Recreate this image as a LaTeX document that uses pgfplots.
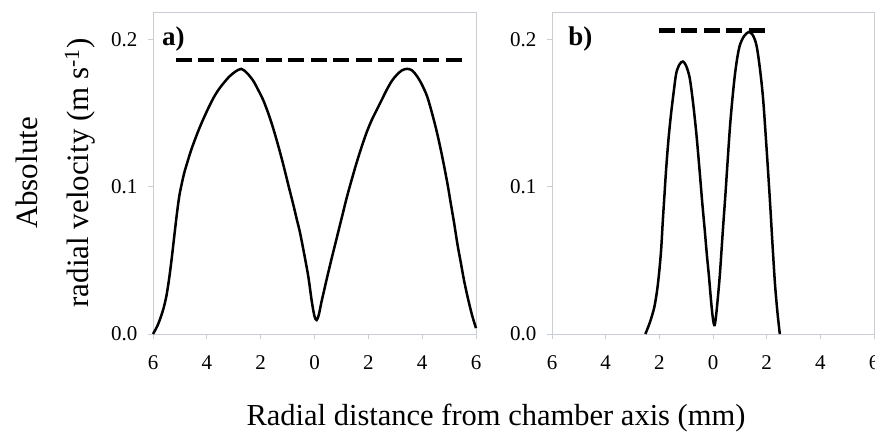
\documentclass[border=0pt]{standalone}
\usepackage{fontspec}
\setmainfont{Liberation Serif}
\usepackage{pgfplots}
\pgfplotsset{compat=1.18}
\definecolor{framecol}{RGB}{200,205,214}
\pgfplotsset{
  panel/.style={
    anchor=south west, scale only axis,
    width=323pt, height=322pt,
    xmin=-6, xmax=6, ymin=0, ymax=0.2186,
    axis line style={framecol, line width=0.8pt},
    tick style={framecol, line width=0.8pt},
    major tick length=5pt,
    tick align=outside,
    xtick pos=bottom, ytick pos=left,
    xtick={-6,-4,-2,0,2,4,6},
    xticklabels={6,4,2,0,2,4,6},
    ytick={0,0.1,0.2},
    yticklabels={0.0,0.1,0.2},
    tick label style={font=\fontsize{21}{24}\selectfont, black},
    xticklabel style={yshift=-13pt},
    yticklabel style={xshift=-7pt},
    clip=false,
  },
  curve/.style={black, line width=2.5pt, smooth, tension=0.5, no marks},
  dashline/.style={black, line width=4.5pt, dash pattern=on 16pt off 6.5pt, no marks},
}
\begin{document}
\begin{tikzpicture}[x=1pt,y=1pt]
\useasboundingbox (0,0) rectangle (875,431);
\begin{axis}[panel, at={(153pt,97pt)},
  ylabel={Absolute\\radial velocity (m s\textsuperscript{-1})},
  ylabel style={at={(axis description cs:-0.303,0.5)}, anchor=center, align=center, font=\fontsize{31}{51}\selectfont},
]
\addplot[curve] coordinates {
(-6.0,0.000) (-5.85,0.005) (-5.72,0.011) (-5.60,0.018) (-5.49,0.027) (-5.39,0.039)
(-5.30,0.052) (-5.20,0.068) (-5.11,0.082) (-5.02,0.094) (-4.92,0.103) (-4.83,0.110)
(-4.70,0.118) (-4.58,0.125) (-4.42,0.133) (-4.27,0.140) (-4.08,0.148) (-3.90,0.155)
(-3.70,0.162) (-3.52,0.167) (-3.30,0.172) (-3.15,0.175) (-2.95,0.178) (-2.72,0.180)
(-2.50,0.177) (-2.28,0.172) (-2.10,0.166) (-1.91,0.159) (-1.72,0.150) (-1.54,0.140)
(-1.35,0.128) (-1.16,0.115) (-0.97,0.101) (-0.79,0.088) (-0.66,0.078) (-0.54,0.069)
(-0.39,0.055) (-0.23,0.039) (-0.10,0.022) (0.00,0.012) (0.08,0.0095) (0.16,0.013)
(0.25,0.021) (0.35,0.029) (0.45,0.037) (0.62,0.050) (0.81,0.064) (1.00,0.078)
(1.19,0.092) (1.37,0.104) (1.56,0.116) (1.75,0.127) (1.94,0.137)
(2.12,0.145) (2.31,0.152) (2.50,0.159) (2.69,0.166) (2.88,0.172) (3.06,0.176)
(3.25,0.179) (3.44,0.180) (3.62,0.179) (3.81,0.175) (4.00,0.169) (4.19,0.161)
(4.38,0.149) (4.56,0.136) (4.75,0.120) (4.94,0.102) (5.06,0.089) (5.19,0.075)
(5.31,0.061) (5.44,0.048) (5.56,0.036) (5.69,0.025) (5.85,0.013) (6.00,0.004)
};
\addplot[dashline] coordinates {(-5.15,0.186) (5.56,0.186)};
\node[anchor=base west, font=\fontsize{27}{30}\selectfont\bfseries, inner sep=0pt] at (axis cs:-5.67,0.196) {a)};
\end{axis}
\begin{axis}[panel, at={(552pt,97pt)}, width=322pt]
\addplot[curve] coordinates {
(-2.52,0.000) (-2.35,0.008) (-2.19,0.018) (-2.08,0.030) (-2.00,0.043) (-1.93,0.058)
(-1.87,0.077) (-1.81,0.094) (-1.75,0.111) (-1.66,0.132) (-1.56,0.150) (-1.46,0.165)
(-1.37,0.177) (-1.25,0.183) (-1.12,0.185) (-1.00,0.182) (-0.87,0.174) (-0.75,0.158)
(-0.62,0.136) (-0.50,0.111) (-0.40,0.089) (-0.31,0.071) (-0.23,0.054) (-0.15,0.039)
(-0.07,0.022) (0.00,0.010) (0.06,0.006) (0.13,0.015) (0.25,0.039) (0.37,0.071)
(0.46,0.094) (0.54,0.116) (0.63,0.140) (0.72,0.159) (0.81,0.175) (0.90,0.187)
(1.00,0.196) (1.15,0.202) (1.33,0.205) (1.48,0.203) (1.62,0.196) (1.75,0.180)
(1.87,0.159) (2.00,0.125) (2.12,0.091) (2.22,0.060) (2.31,0.034) (2.40,0.015)
(2.49,0.000)
};
\addplot[dashline] coordinates {(-2.02,0.206) (2.06,0.206)};
\node[anchor=base west, font=\fontsize{27}{30}\selectfont\bfseries, inner sep=0pt] at (axis cs:-5.40,0.196) {b)};
\end{axis}
\node[anchor=base, font=\fontsize{30.5}{34}\selectfont, inner sep=0pt] at (496,6) {Radial distance from chamber axis (mm)};
\end{tikzpicture}
\end{document}
